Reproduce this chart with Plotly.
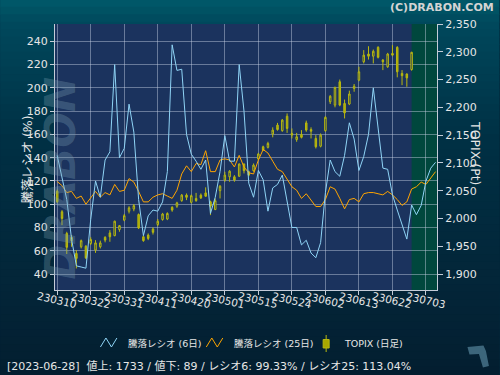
import plotly.graph_objects as go

# ---------------- data ----------------
tick_labels = ["230310", "230322", "230331", "230411", "230420", "230501",
               "230515", "230524", "230602", "230613", "230622", "230703"]
tick_index = [0, 7, 14, 21, 28, 35, 42, 49, 56, 63, 70, 77]

ratio6 = [142, 122, 104, 70, 47, 46, 45, 87, 120, 106,
          138, 145, 220, 140, 148, 186, 162, 104, 73, 90,
          95, 94, 102, 128, 237, 215, 216, 160, 143, 137,
          130, 138, 92, 106, 128, 159, 137, 137, 220, 180,
          118, 106, 129, 121, 94, 114, 117, 125, 102, 80,
          80, 65, 69, 58, 54, 67, 110, 138, 128, 124,
          142, 170, 156, 129, 141, 160, 200, 166, 131, 130,
          108, 95, 82, 70, 99.33, 91, 99, 120, 131, 136]

ratio25 = [119.5, 116, 110, 111, 105, 107, 100, 105, 111, 106,
           110, 108, 117, 111, 112, 122, 119, 111, 102, 102,
           106, 108, 109, 107, 105, 112, 126, 133, 128, 135,
           134, 146, 128, 128, 138, 139, 138, 132, 142, 132,
           127, 126, 138, 147, 144, 137, 130, 128, 121, 115,
           112, 105, 109, 104, 98, 98, 104, 115, 113, 105,
           96, 104, 105, 102, 109, 110, 110, 109, 108, 111,
           108, 104, 99, 102, 113.04, 115, 119, 117, 122, 128]

topix_open = [2049, 2012, 1973, 1960, 1937, 1949, 1950, 1955, 1943, 1949,
              1966, 1974, 1969, 1980, 1997, 2013, 2017, 2007, 1967, 1970,
              1981, 1989, 1998, 1999, 2020, 2022, 2032, 2042, 2029, 2036,
              2042, 2046, 2030, 2016, 2050, 2069, 2075, 2075, 2076, 2098,
              2084, 2086, 2107, 2129, 2128, 2152, 2168, 2158, 2184, 2153,
              2142, 2151, 2172, 2160, 2144, 2130, 2158, 2210, 2204, 2246,
              2207, 2206, 2234, 2249, 2282, 2296, 2292, 2308, 2285, 2273,
              2297, 2308, 2261, 2260, 2268]
topix_high = [2052, 2015, 1976, 1970, 1943, 1962, 1952, 1966, 1961, 1960,
              1968, 1979, 1996, 1988, 2008, 2022, 2026, 2009, 1969, 1973,
              1984, 1999, 2010, 2011, 2022, 2030, 2044, 2045, 2043, 2046,
              2045, 2056, 2032, 2036, 2060, 2084, 2087, 2078, 2099, 2099,
              2086, 2099, 2118, 2131, 2138, 2164, 2172, 2179, 2189, 2162,
              2154, 2159, 2176, 2164, 2150, 2153, 2184, 2222, 2237, 2250,
              2214, 2230, 2242, 2273, 2303, 2310, 2304, 2310, 2287, 2298,
              2312, 2310, 2267, 2261, 2300]
topix_low = [2028, 1988, 1936, 1949, 1910, 1946, 1927, 1952, 1938, 1946,
             1957, 1958, 1968, 1976, 1995, 2009, 2013, 1981, 1958, 1961,
             1971, 1986, 1996, 1997, 2012, 2019, 2030, 2033, 2027, 2030,
             2035, 2039, 2006, 2015, 2036, 2066, 2066, 2066, 2075, 2081,
             2076, 2084, 2105, 2122, 2126, 2146, 2158, 2156, 2154, 2144,
             2138, 2144, 2156, 2144, 2126, 2128, 2156, 2206, 2200, 2202,
             2180, 2204, 2228, 2247, 2279, 2286, 2279, 2288, 2267, 2271,
             2292, 2254, 2240, 2237, 2266]
topix_close = [2030, 2000, 1948, 1966, 1928, 1960, 1929, 1962, 1956, 1956,
               1961, 1967, 1995, 1987, 2005, 2019, 2023, 1983, 1960, 1964,
               1975, 1995, 2008, 2009, 2015, 2028, 2042, 2038, 2041, 2032,
               2037, 2040, 2022, 2032, 2058, 2078, 2085, 2069, 2098, 2086,
               2078, 2096, 2116, 2123, 2135, 2159, 2160, 2177, 2162, 2150,
               2147, 2146, 2159, 2157, 2129, 2150, 2182, 2220, 2236, 2204,
               2190, 2224, 2238, 2264, 2294, 2292, 2301, 2290, 2282, 2296,
               2294, 2264, 2257, 2253, 2299]

left_ticks = [40, 60, 80, 100, 120, 140, 160, 180, 200, 220, 240]
right_ticks = [1900, 1950, 2000, 2050, 2100, 2150, 2200, 2250, 2300, 2350]

legend_labels = ["騰落レシオ (6日)", "騰落レシオ (25日)", "TOPIX (日足)"]
status_text = "[2023-06-28]\u00a0\u00a0値上: 1733 / 値下: 89 / レシオ6: 99.33% / レシオ25: 113.04%"

# ---------------- geometry / style ----------------
W, H = 500, 375
ML, MR, MT, MB = 55, 62.5, 24, 85
PW, PH = W - ML - MR, H - MT - MB
FONT = "DejaVu Sans, Noto Sans CJK JP, sans-serif"
TXT = "#e6e6e6"
GRID = "rgba(200,208,228,0.45)"
AXL = "#c4ccd8"
PLOT_BG = "#1b335e"
GREEN = "#00473d"
BLUE = "#8fd4f6"
ORANGE = "#ffa500"
OLIVE = "#a8a800"
OLIVE_L = "#b8b810"


def px(x):
    return (x - ML) / PW


def py(y):
    return (H - MB - y) / PH


x_line = list(range(len(ratio6)))
x_candle = list(range(len(topix_open)))

fig = go.Figure()
fig.add_trace(go.Candlestick(
    x=x_candle, open=topix_open, high=topix_high, low=topix_low, close=topix_close,
    yaxis="y", whiskerwidth=0, hoverinfo="skip", showlegend=False,
    increasing=dict(line=dict(color=OLIVE_L, width=1), fillcolor=PLOT_BG),
    decreasing=dict(line=dict(color=OLIVE_L, width=1), fillcolor=OLIVE),
))
fig.add_trace(go.Scatter(x=x_line, y=ratio25, yaxis="y2", mode="lines",
                         line=dict(color=ORANGE, width=1), hoverinfo="skip",
                         showlegend=False))
fig.add_trace(go.Scatter(x=x_line, y=ratio6, yaxis="y2", mode="lines",
                         line=dict(color=BLUE, width=1), hoverinfo="skip",
                         showlegend=False))

# ---------------- background shapes ----------------
shapes = []
stops = [(0, (0, 90, 106)), (24, (0, 72, 92)), (140, (0, 48, 68)),
         (290, (3, 37, 56)), (375, (3, 30, 48))]


def grad(y):
    for (y0, c0), (y1, c1) in zip(stops[:-1], stops[1:]):
        if y0 <= y <= y1:
            t = (y - y0) / (y1 - y0)
            c = [round(a + (b - a) * t) for a, b in zip(c0, c1)]
            return "rgb(%d,%d,%d)" % tuple(c)
    return "rgb(%d,%d,%d)" % stops[-1][1]


nb = 50
for k in range(nb):
    y0 = H * k / nb
    y1 = H * (k + 1) / nb
    shapes.append(dict(type="rect", xref="paper", yref="paper",
                       x0=px(0), x1=px(W), y0=py(y1), y1=py(y0) + 0.003,
                       fillcolor=grad((y0 + y1) / 2), line=dict(width=0),
                       layer="below"))
shapes.append(dict(type="rect", xref="paper", yref="paper", x0=0, x1=1, y0=0, y1=1,
                   fillcolor=PLOT_BG, line=dict(width=0), layer="below"))
shapes.append(dict(type="rect", xref="x", yref="paper", x0=74, x1=79.3, y0=0, y1=1,
                   fillcolor=GREEN, line=dict(width=0), layer="below"))


def zig(x0, yc):
    pts = [(x0, yc + 4.5), (x0 + 5.5, yc - 4.5), (x0 + 11, yc + 4.5), (x0 + 16.5, yc - 4.5)]
    return "M " + " L ".join("%.5f,%.5f" % (px(a), py(b)) for a, b in pts)


shapes.append(dict(type="path", xref="paper", yref="paper", path=zig(100.5, 342.5),
                   line=dict(color=BLUE, width=1), layer="above"))
shapes.append(dict(type="path", xref="paper", yref="paper", path=zig(206.5, 342.5),
                   line=dict(color=ORANGE, width=1), layer="above"))
shapes.append(dict(type="line", xref="paper", yref="paper", x0=px(326.5), x1=px(326.5),
                   y0=py(352), y1=py(335), line=dict(color=OLIVE_L, width=1)))
shapes.append(dict(type="rect", xref="paper", yref="paper", x0=px(323.5), x1=px(329.5),
                   y0=py(348), y1=py(339.5), fillcolor=OLIVE,
                   line=dict(color=OLIVE_L, width=1)))
# small logo bottom-right
logo = [(468, 347), (484, 345.5), (486.5, 351), (489.5, 366), (483.5, 367.5),
        (479.5, 354), (470, 354.5)]
shapes.append(dict(type="path", xref="paper", yref="paper",
                   path="M " + " L ".join("%.5f,%.5f" % (px(a), py(b)) for a, b in logo) + " Z",
                   fillcolor="rgba(80,125,148,0.75)", line=dict(width=0), layer="above"))

# ---------------- annotations ----------------
ann = []
for t, lab in zip(tick_index, tick_labels):
    ann.append(dict(x=t, xref="x", y=py(299.5), yref="paper", text=lab, showarrow=False,
                    textangle=13, font=dict(family=FONT, size=10.5, color=TXT),
                    xanchor="center", yanchor="middle"))

ann.append(dict(x=px(17), y=py(160), xref="paper", yref="paper", text="騰落レシオ (%)",
                textangle=-90, showarrow=False,
                font=dict(family=FONT, size=12.5, color=TXT)))
ann.append(dict(x=px(486), y=py(153), xref="paper", yref="paper", text="TOPIX (Pt)",
                textangle=90, showarrow=False,
                font=dict(family=FONT, size=12.5, color=TXT)))
ann.append(dict(x=px(33), y=py(178), xref="paper", yref="paper", text="DRABON",
                textangle=-90, showarrow=False,
                font=dict(family="DejaVu Sans", size=42, color="rgba(120,158,178,0.33)",
                          weight="bold", style="italic")))
ann.append(dict(x=px(497), y=py(7), xref="paper", yref="paper", text="(C)DRABON.COM",
                xanchor="right", yanchor="middle", showarrow=False,
                font=dict(family="DejaVu Sans", size=11, color="#d4d4d4", weight="bold")))
for xx, lab in zip([126.5, 232.5, 342.5], legend_labels):
    ann.append(dict(x=px(xx), y=py(343), xref="paper", yref="paper", text=lab,
                    xanchor="left", yanchor="middle", showarrow=False,
                    font=dict(family=FONT, size=9.5, color=TXT)))
ann.append(dict(x=px(5), y=py(366.5), xref="paper", yref="paper", text=status_text,
                xanchor="left", yanchor="middle", showarrow=False,
                font=dict(family=FONT, size=11, color=TXT)))

fig.update_layout(
    width=W, height=H,
    margin=dict(l=ML, r=MR, t=MT, b=MB, pad=0),
    paper_bgcolor="#03263a",
    plot_bgcolor="rgba(0,0,0,0)",
    showlegend=False,
    hovermode=False,
    boxgap=0.55,
    shapes=shapes,
    annotations=ann,
    xaxis=dict(range=[-0.46, 79.3], tickvals=tick_index, showticklabels=False,
               ticks="outside", ticklen=4, tickcolor=AXL,
               showgrid=True, gridcolor=GRID, gridwidth=1,
               showline=True, linecolor=AXL, linewidth=1, zeroline=False,
               rangeslider=dict(visible=False), fixedrange=True),
    yaxis=dict(side="right", range=[1871.2, 2350], tickvals=right_ticks,
               tickformat=",d", ticks="outside", ticklen=5, tickcolor=AXL,
               showgrid=False, showline=True, linecolor=AXL, linewidth=1,
               zeroline=False, tickfont=dict(family=FONT, size=11, color=TXT),
               fixedrange=True),
    yaxis2=dict(side="left", overlaying="y", range=[26.25, 254.9], tickvals=left_ticks,
                ticks="outside", ticklen=4, tickcolor=AXL,
                showgrid=True, gridcolor=GRID, gridwidth=1,
                showline=True, linecolor=AXL, linewidth=1, zeroline=False,
                tickfont=dict(family=FONT, size=11, color=TXT), fixedrange=True),
)

fig.write_html("out.html", config={"displayModeBar": False})

# remove the default page margin so the 500x375 figure fills the window
with open("out.html", "r", encoding="utf-8") as f:
    html = f.read()
html = html.replace("<head>", "<head><style>html,body{margin:0;padding:0;overflow:hidden;}</style>", 1)
with open("out.html", "w", encoding="utf-8") as f:
    f.write(html)
